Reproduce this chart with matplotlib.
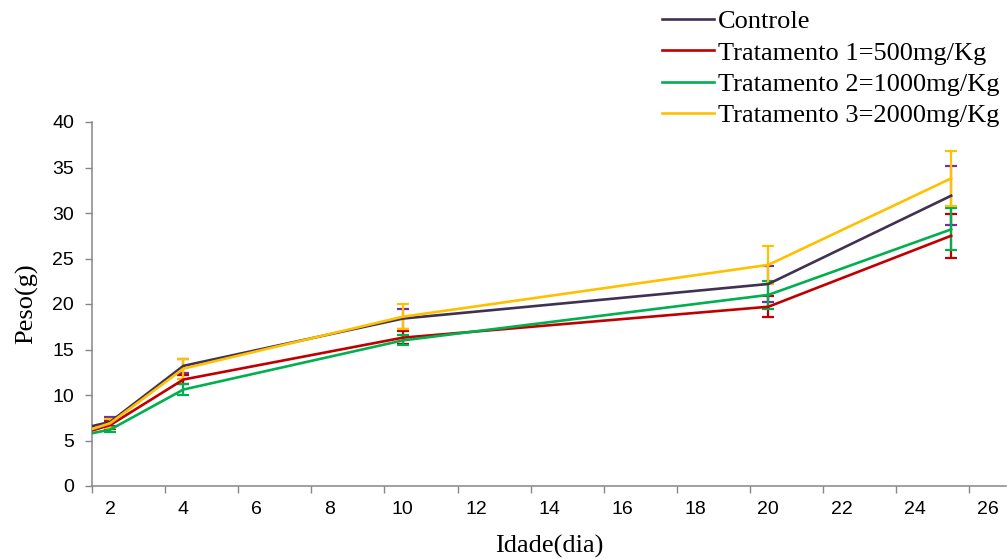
import numpy as np
import matplotlib.pyplot as plt
from matplotlib.ticker import FixedLocator

# dados
dias = [1, 2, 4, 10, 20, 25]
rotulos = ['Controle', 'Tratamento 1=500mg/Kg', 'Tratamento 2=1000mg/Kg',
           'Tratamento 3=2000mg/Kg']
controle = [6.1, 7.05, 13.2, 18.4, 22.2, 31.9]
controle_err = [0.4, 0.5, 0.8, 1.1, 1.95, 3.25]
trat1 = [5.5, 6.7, 11.7, 16.3, 19.7, 27.5]
trat1_err = [0.4, 0.4, 0.5, 0.7, 1.15, 2.4]
trat2 = [5.4, 6.2, 10.6, 16.0, 21.0, 28.2]
trat2_err = [0.4, 0.3, 0.6, 0.55, 1.5, 2.3]
trat3 = [5.6, 6.9, 12.9, 18.6, 24.3, 33.8]
trat3_err = [0.4, 0.5, 1.1, 1.4, 2.1, 3.05]

cores = ['#403152', '#C00000', '#00B050', '#FFC000']
cores_err = ['#7030A0', '#C00000', '#00B050', '#FFC000']

plt.rcParams['font.family'] = 'Liberation Sans'

fig = plt.figure(figsize=(10.08, 5.6), dpi=100)
ax = fig.add_axes([92 / 1008, 74 / 560, 914 / 1008, 364 / 560])

series = [(controle, controle_err), (trat1, trat1_err), (trat2, trat2_err), (trat3, trat3_err)]
handles = []
for (y, e), cor, cerr, nome in zip(series, cores, cores_err, rotulos):
    ax.errorbar(dias, y, yerr=e, fmt='none', ecolor=cerr, elinewidth=1.6,
                capsize=4.2, capthick=1.6, zorder=2)
    h, = ax.plot(dias, y, color=cor, lw=1.9, label=nome, zorder=3)
    handles.append(h)

ax.set_xlim(1.5, 26.5)
ax.set_ylim(0, 40)
ax.set_yticks(np.arange(0, 41, 5))
# marcas entre os rotulos, estilo Excel
ax.xaxis.set_major_locator(FixedLocator(np.arange(1.5, 26, 2)))
ax.xaxis.set_minor_locator(FixedLocator(np.arange(2, 27, 2)))
ax.xaxis.set_major_formatter(plt.NullFormatter())
ax.xaxis.set_minor_formatter(plt.FuncFormatter(lambda v, p: '%d' % v))
ax.tick_params(axis='x', which='major', length=5, width=1, color='#868686', direction='out')
ax.tick_params(axis='x', which='minor', length=0, pad=11, labelsize=14)
ax.tick_params(axis='y', length=5, width=1, color='#868686', direction='out', pad=8,
               labelsize=14)

for s in ['top', 'right']:
    ax.spines[s].set_visible(False)
for s in ['left', 'bottom']:
    ax.spines[s].set_color('#868686')
    ax.spines[s].set_linewidth(1.1)

ax.set_xlabel('Idade(dia)', fontfamily='Liberation Serif', fontsize=19, labelpad=12)
ax.set_ylabel('Peso(g)', fontfamily='Liberation Serif', fontsize=19, labelpad=10)

fig.legend(handles=handles, loc='upper right', bbox_to_anchor=(1.005, 1.006),
           frameon=False, prop={'family': 'Liberation Serif', 'size': 19},
           handlelength=2.0, handletextpad=0.15, labelspacing=0.3,
           borderaxespad=0.1)

fig.savefig('out.png', dpi=100)
